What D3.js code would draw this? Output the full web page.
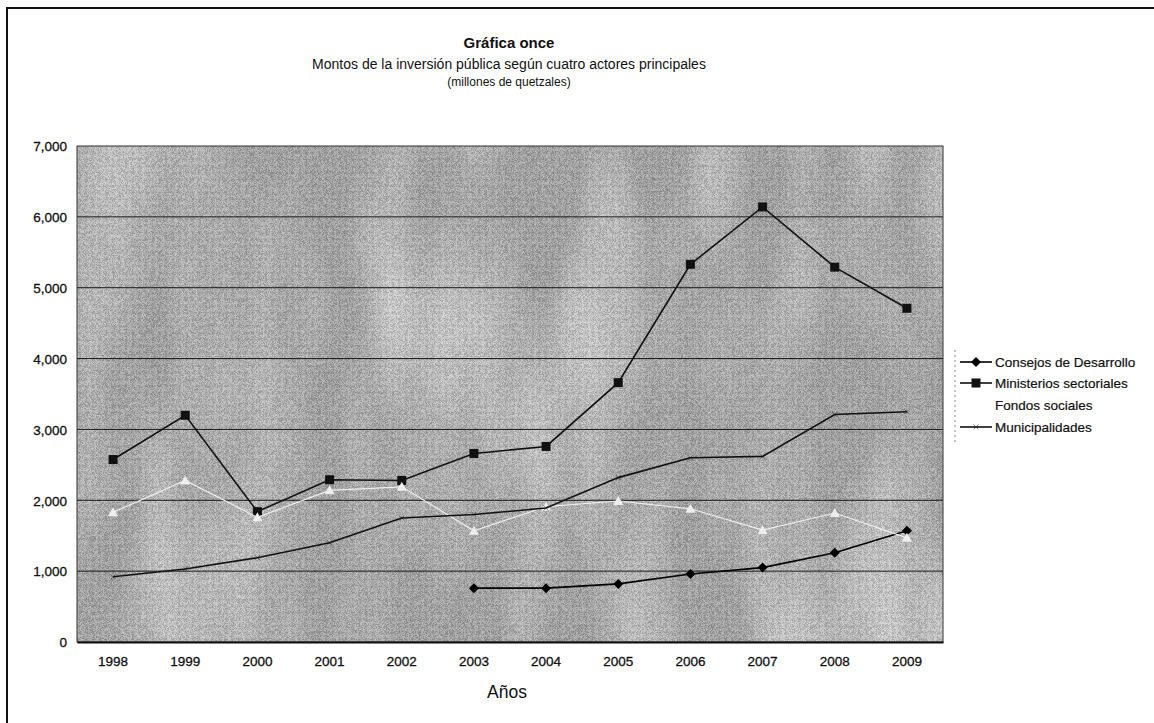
<!DOCTYPE html>
<html>
<head>
<meta charset="utf-8">
<style>
  body { margin: 0; background: #fff; }
  text { font-family: "Liberation Sans", Arial, sans-serif; fill: #111; }
</style>
<script src="https://d3js.org/d3.v7.min.js"></script>
</head>
<body>
<div id="chart"></div>
<script>
const years = ["1998","1999","2000","2001","2002","2003","2004","2005","2006","2007","2008","2009"];
const consejos = [null, null, null, null, null, 760, 760, 820, 960, 1050, 1260, 1570];
const ministerios = [2575, 3200, 1840, 2290, 2280, 2660, 2760, 3660, 5330, 6140, 5290, 4710];
const fondos = [1830, 2280, 1760, 2140, 2190, 1570, 1910, 1990, 1880, 1580, 1820, 1470];
const municipal = [920, 1030, 1190, 1400, 1750, 1800, 1890, 2320, 2600, 2620, 3210, 3250];
const yTicks = [0, 1000, 2000, 3000, 4000, 5000, 6000, 7000];

const series = [
  { name: "Consejos de Desarrollo", values: consejos, color: "#000", marker: "diamond" },
  { name: "Ministerios sectoriales", values: ministerios, color: "#111", marker: "square" },
  { name: "Fondos sociales", values: fondos, color: "#eeeeee", marker: "triangle" },
  { name: "Municipalidades", values: municipal, color: "#111", marker: "cross" }
];

const W = 1154, H = 723;
const plot = { left: 77, top: 146, right: 943, bottom: 642 };

const svg = d3.select("#chart").append("svg")
  .attr("width", W).attr("height", H);

// scanned-looking gray fill
const defs = svg.append("defs");
const f = defs.append("filter").attr("id", "grain").attr("x", 0).attr("y", 0).attr("width", "100%").attr("height", "100%");
f.append("feTurbulence").attr("type", "turbulence").attr("baseFrequency", "0.85").attr("numOctaves", 1).attr("seed", 3);
f.append("feColorMatrix").attr("type", "matrix")
  .attr("values", "2.2 0 0 0 0.05  2.2 0 0 0 0.05  2.2 0 0 0 0.05  0 0 0 0 1");
const g2 = defs.append("filter").attr("id", "blotch").attr("x", 0).attr("y", 0).attr("width", "100%").attr("height", "100%");
g2.append("feTurbulence").attr("type", "fractalNoise").attr("baseFrequency", "0.014 0.004").attr("numOctaves", 2).attr("seed", 7);
g2.append("feColorMatrix").attr("type", "matrix")
  .attr("values", "0 0 0 0 1  0 0 0 0 1  0 0 0 0 1  0 0 0 1.6 -0.6");

// outer frame
svg.append("path").attr("d", `M7,723 L7,8 L1154,8`)
  .attr("fill", "none").attr("stroke", "#111").attr("stroke-width", 2);

// titles
svg.append("text").attr("x", 509).attr("y", 48).attr("text-anchor", "middle")
  .style("font-size", "15px").style("font-weight", "bold").text("Gráfica once");
svg.append("text").attr("x", 509).attr("y", 69).attr("text-anchor", "middle")
  .style("font-size", "14px").text("Montos de la inversión pública según cuatro actores principales");
svg.append("text").attr("x", 509).attr("y", 86).attr("text-anchor", "middle")
  .style("font-size", "12px").text("(millones de quetzales)");

const x = d3.scaleBand().domain(years).range([plot.left, plot.right]);
const y = d3.scaleLinear().domain([0, 7000]).range([plot.bottom, plot.top]);

// plot area
const pw = plot.right - plot.left, ph = plot.bottom - plot.top;
svg.append("rect").attr("x", plot.left).attr("y", plot.top).attr("width", pw).attr("height", ph)
  .attr("fill", "#a2a2a2");
svg.append("rect").attr("x", plot.left).attr("y", plot.top).attr("width", pw).attr("height", ph)
  .attr("filter", "url(#blotch)").attr("opacity", 0.7);
svg.append("rect").attr("x", plot.left).attr("y", plot.top).attr("width", pw).attr("height", ph)
  .attr("filter", "url(#grain)").attr("opacity", 0.25);

// gridlines
svg.append("g").selectAll("line").data(yTicks.filter(d => d > 0 && d < 7000)).join("line")
  .attr("x1", plot.left).attr("x2", plot.right)
  .attr("y1", d => y(d)).attr("y2", d => y(d))
  .attr("stroke", "#1a1a1a").attr("stroke-width", 1);

svg.append("rect").attr("x", plot.left).attr("y", plot.top).attr("width", pw).attr("height", ph)
  .attr("fill", "none").attr("stroke", "#333").attr("stroke-width", 1);

// axes
const yAxis = svg.append("g").attr("transform", `translate(${plot.left},0)`)
  .call(d3.axisLeft(y).tickValues(yTicks).tickSize(0).tickPadding(10).tickFormat(d3.format(",")));
yAxis.select(".domain").remove();
yAxis.selectAll("text").style("font-size", "13.5px").attr("dy", "0.35em")
  .attr("stroke", "#111").attr("stroke-width", 0.3);

const xAxis = svg.append("g").attr("transform", `translate(0,${plot.bottom})`)
  .call(d3.axisBottom(x).tickSize(0).tickPadding(14));
xAxis.select(".domain").attr("stroke", "#111").attr("stroke-width", 2);
xAxis.selectAll("text").style("font-size", "13.5px")
  .attr("stroke", "#111").attr("stroke-width", 0.3);

svg.append("text").attr("x", 507).attr("y", 698).attr("text-anchor", "middle")
  .style("font-size", "17.5px").text("Años");

// marker drawing
function marker(sel, type, color) {
  if (type === "diamond") {
    sel.append("path").attr("d", "M0,-5L5,0L0,5L-5,0Z").attr("fill", color);
  } else if (type === "square") {
    sel.append("rect").attr("x", -4.5).attr("y", -4.5).attr("width", 9).attr("height", 9)
      .attr("fill", color);
  } else if (type === "triangle") {
    sel.append("path").attr("d", "M0,-5L5,4L-5,4Z").attr("fill", color);
  } else if (type === "cross") {
    sel.append("path").attr("d", "M-2.5,-2.5L2.5,2.5M-2.5,2.5L2.5,-2.5").attr("stroke", color)
      .attr("stroke-width", 0.8).attr("opacity", 0.6);
  }
}

const line = d3.line()
  .defined(d => d.v != null)
  .x(d => x(d.year) + x.bandwidth() / 2)
  .y(d => y(d.v));

series.forEach(s => {
  const pts = years.map((yr, i) => ({ year: yr, v: s.values[i] }));
  svg.append("path").datum(pts).attr("d", line)
    .attr("fill", "none").attr("stroke", s.color).attr("stroke-width", s.marker === "triangle" ? 1.2 : 1.6);
  svg.append("g").selectAll("g").data(pts.filter(d => d.v != null)).join("g")
    .attr("transform", d => `translate(${x(d.year) + x.bandwidth() / 2},${y(d.v)})`)
    .each(function () { marker(d3.select(this), s.marker, s.color); });
});

// legend
const leg = svg.append("g").attr("transform", "translate(955,0)");
leg.append("line").attr("x1", 0).attr("x2", 0).attr("y1", 350).attr("y2", 442)
  .attr("stroke", "#888").attr("stroke-dasharray", "2,3");
const legY = [362, 383, 405, 427];
series.forEach((s, i) => {
  const c = s.marker === "triangle" ? "#fff" : s.color;
  const row = leg.append("g").attr("transform", `translate(0,${legY[i]})`);
  row.append("line").attr("x1", 5).attr("x2", 37).attr("stroke", c).attr("stroke-width", 1.6);
  const m = row.append("g").attr("transform", "translate(21,0)");
  marker(m, s.marker, c);
  row.append("text").attr("x", 40).attr("dy", "0.35em").style("font-size", "13.5px")
    .attr("stroke", "#111").attr("stroke-width", 0.2).text(s.name);
});
</script>
</body>
</html>
